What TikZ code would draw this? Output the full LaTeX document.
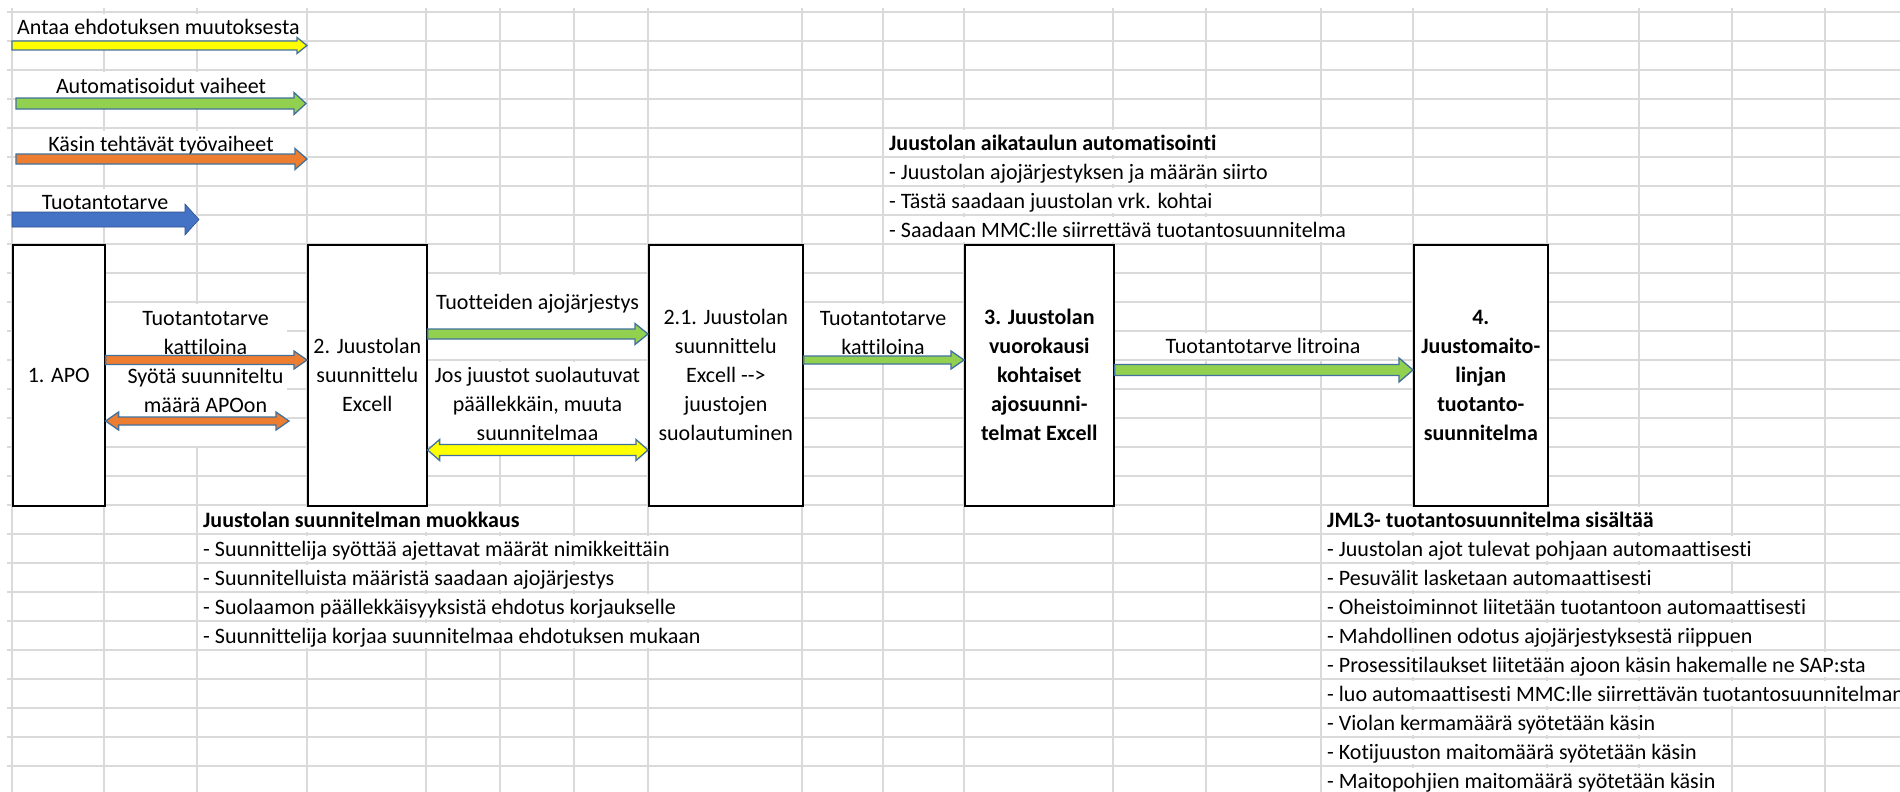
\documentclass[tikz,border=0pt]{standalone}
\usepackage{fontspec}
\setmainfont{Carlito}[Ligatures=NoCommon]
\usetikzlibrary{calc}

\definecolor{gridc}{RGB}{218,218,218}
\definecolor{arrline}{RGB}{65,113,156}
\definecolor{ayellow}{RGB}{255,255,0}
\definecolor{agreen}{RGB}{146,208,80}
\definecolor{aorange}{RGB}{237,125,49}
\definecolor{ablue}{RGB}{68,114,196}
\definecolor{abluel}{RGB}{47,82,143}

\tikzset{
  gridline/.style={draw=gridc, line width=1.3pt},
  procbox/.style={draw=black, line width=1.6pt, fill=white, anchor=north west,
    align=center, inner sep=0pt},
  celltext/.style={anchor=base west, fill=white, inner xsep=2pt, inner ysep=0pt,
    text height=20.5pt, text depth=5pt},
  legendtext/.style={celltext, anchor=base},
  textbg/.style={fill=white},
  arrlabel/.style={align=center, inner sep=2pt, anchor=base},
  blk/.style={draw=arrline, line width=1.3pt, line join=miter},
  every node/.style={font=\fontsize{22}{29}\selectfont},
}

% one-headed block arrow: style, start, end, shaft half width, head half width, head length
\newcommand{\blockarrowR}[6]{%
  \path[#1] let \p1=#2, \p2=#3 in
    (\x1,\y1+#4pt) -- (\x2-#6pt,\y1+#4pt) -- (\x2-#6pt,\y1+#5pt) -- (\x2,\y1)
    -- (\x2-#6pt,\y1-#5pt) -- (\x2-#6pt,\y1-#4pt) -- (\x1,\y1-#4pt) -- cycle;}
% two-headed block arrow
\newcommand{\blockarrowLR}[6]{%
  \path[#1] let \p1=#2, \p2=#3 in
    (\x1,\y1) -- (\x1+#6pt,\y1+#5pt) -- (\x1+#6pt,\y1+#4pt) -- (\x2-#6pt,\y1+#4pt)
    -- (\x2-#6pt,\y1+#5pt) -- (\x2,\y1) -- (\x2-#6pt,\y1-#5pt) -- (\x2-#6pt,\y1-#4pt)
    -- (\x1+#6pt,\y1-#4pt) -- (\x1+#6pt,\y1-#5pt) -- cycle;}

\begin{document}
\begin{tikzpicture}[x=1pt,y=-1pt]
\useasboundingbox (0,0) rectangle (1900,792);
\clip (0,0) rectangle (1900,792);
\fill[white] (0,0) rectangle (1900,792);

% spreadsheet grid
\foreach \k in {0,...,26}
  \draw[gridline] (7,{12+29*\k}) -- (1900,{12+29*\k});
\foreach \c in {12,104,197,307,426,500,574,648,802,883,964,1113,1206,1321,1413,1547,1639,1732,1825}
  \draw[gridline] (\c,8) -- (\c,792);

% legend texts
\node[celltext] (lgy) at (15,35) {Antaa ehdotuksen muutoksesta};
\node[legendtext] (lgg) at (161,93) {Automatisoidut vaiheet};
\node[legendtext] (lgo) at (161,151) {Käsin tehtävät työvaiheet};
\node[legendtext] (lgb) at (105,209) {Tuotantotarve};

% schedule automation notes
\node[celltext] (ta0) at (887,150) {\bfseries Juustolan aikataulun automatisointi};
\node[celltext] (ta1) at (887,179) {- Juustolan ajojärjestyksen ja määrän siirto};
\node[celltext] (ta2) at (887,208) {- Tästä saadaan juustolan vrk. kohtai};
\node[celltext] (ta3) at (887,237) {- Saadaan MMC:lle siirrettävä tuotantosuunnitelma};

% plan editing notes
\node[celltext] (tb0) at (201,527) {\bfseries Juustolan suunnitelman muokkaus};
\node[celltext] (tb1) at (201,556) {- Suunnittelija syöttää ajettavat määrät nimikkeittäin};
\node[celltext] (tb2) at (201,585) {- Suunnitelluista määristä saadaan ajojärjestys};
\node[celltext] (tb3) at (201,614) {- Suolaamon päällekkäisyyksistä ehdotus korjaukselle};
\node[celltext] (tb4) at (201,643) {- Suunnittelija korjaa suunnitelmaa ehdotuksen mukaan};

% JML3 plan notes
\node[celltext] (tc0) at (1325,527) {\bfseries JML3- tuotantosuunnitelma sisältää};
\node[celltext] (tc1) at (1325,556) {- Juustolan ajot tulevat pohjaan automaattisesti};
\node[celltext] (tc2) at (1325,585) {- Pesuvälit lasketaan automaattisesti};
\node[celltext] (tc3) at (1325,614) {- Oheistoiminnot liitetään tuotantoon automaattisesti};
\node[celltext] (tc4) at (1325,643) {- Mahdollinen odotus ajojärjestyksestä riippuen};
\node[celltext] (tc5) at (1325,672) {- Prosessitilaukset liitetään ajoon käsin hakemalle ne SAP:sta};
\node[celltext] (tc6) at (1325,701) {- luo automaattisesti MMC:lle siirrettävän tuotantosuunnitelman};
\node[celltext] (tc7) at (1325,730) {- Violan kermamäärä syötetään käsin};
\node[celltext] (tc8) at (1325,759) {- Kotijuuston maitomäärä syötetään käsin};
\node[celltext] (tc9) at (1325,788) {- Maitopohjien maitomäärä syötetään käsin};

% white text boxes behind the arrow labels
\fill[textbg] (105.5,303.5) rectangle (287,445.5);
\fill[textbg] (427.5,274.5) rectangle (646.5,358.5);
\fill[textbg] (427.5,361.5) rectangle (646.5,445.5);
\fill[textbg] (803.5,303.5) rectangle (962.5,358.5);
\fill[textbg] (1114.5,332.5) rectangle (1411.5,358.5);

% arrow labels (base = baseline of the last line)
\node[arrlabel] (l1) at (205.5,354) {Tuotantotarve\\kattiloina};
\node[arrlabel] (l2) at (205.5,412) {Syötä suunniteltu\\määrä APOon};
\node[arrlabel] (l3) at (537.5,309.5) {Tuotteiden ajojärjestys};
\node[arrlabel] (l4) at (537.5,440.5) {Jos juustot suolautuvat\\päällekkäin, muuta\\suunnitelmaa};
\node[arrlabel] (l5) at (883,354) {Tuotantotarve\\kattiloina};
\node[arrlabel] (l6) at (1263,353) {Tuotantotarve litroina};

% process boxes
\node[procbox, minimum width=92pt, minimum height=261pt] (apo) at (12,244) {1. APO};
\node[procbox, minimum width=119pt, minimum height=261pt] (b2) at (307,244)
  {2. Juustolan\\suunnittelu\\Excell};
\node[procbox, minimum width=154pt, minimum height=261pt] (b21) at (648,244)
  {2.1. Juustolan\\suunnittelu\\Excell -\kern0pt->\\juustojen\\suolautuminen};
\node[procbox, minimum width=149pt, minimum height=261pt, font=\fontsize{22}{29}\selectfont\bfseries] (b3) at (964,244)
  {3. Juustolan\\vuorokausi\\kohtaiset\\ajosuunni-\\telmat Excell};
\node[procbox, minimum width=134pt, minimum height=261pt, font=\fontsize{22}{29}\selectfont\bfseries] (b4) at (1413,244)
  {4.\\Juustomaito-\\linjan\\tuotanto-\\suunnitelma};

% legend arrows
\coordinate (ya) at (12,45.5);  \coordinate (yb) at (307,45.5);
\coordinate (ga) at (16,103.5); \coordinate (gb) at (306,103.5);
\coordinate (oa) at (16,159);   \coordinate (ob) at (307,159);
\coordinate (ba) at (12,219.5); \coordinate (bb) at (199,219.5);
\blockarrowR{blk, fill=ayellow}{(ya)}{(yb)}{4.5}{8}{10}
\blockarrowR{blk, fill=agreen}{(ga)}{(gb)}{5.5}{11}{12}
\blockarrowR{blk, fill=aorange}{(oa)}{(ob)}{5}{10.5}{12}
\blockarrowR{fill=ablue, draw=abluel, line width=0.6pt}{(ba)}{(bb)}{7.5}{15.5}{14}

% flow arrows between the boxes
\blockarrowR{blk, fill=aorange}{(apo.east |- 0,360)}{(b2.west |- 0,360)}{4.5}{9}{13}
\blockarrowLR{blk, fill=aorange}{(apo.east |- 0,421)}{(289,421)}{4}{9}{13}
\blockarrowR{blk, fill=agreen}{(b2.east |- 0,334)}{(b21.west |- 0,334)}{5}{10.5}{13}
\blockarrowLR{blk, fill=ayellow}{(b2.east |- 0,450)}{(b21.west |- 0,450)}{5.5}{10.5}{12}
\blockarrowR{blk, fill=agreen}{(b21.east |- 0,360)}{(b3.west |- 0,360)}{4}{9}{13}
\blockarrowR{blk, fill=agreen}{(b3.east |- 0,370)}{(b4.west |- 0,370)}{5.5}{12}{14}
\end{tikzpicture}
\end{document}
